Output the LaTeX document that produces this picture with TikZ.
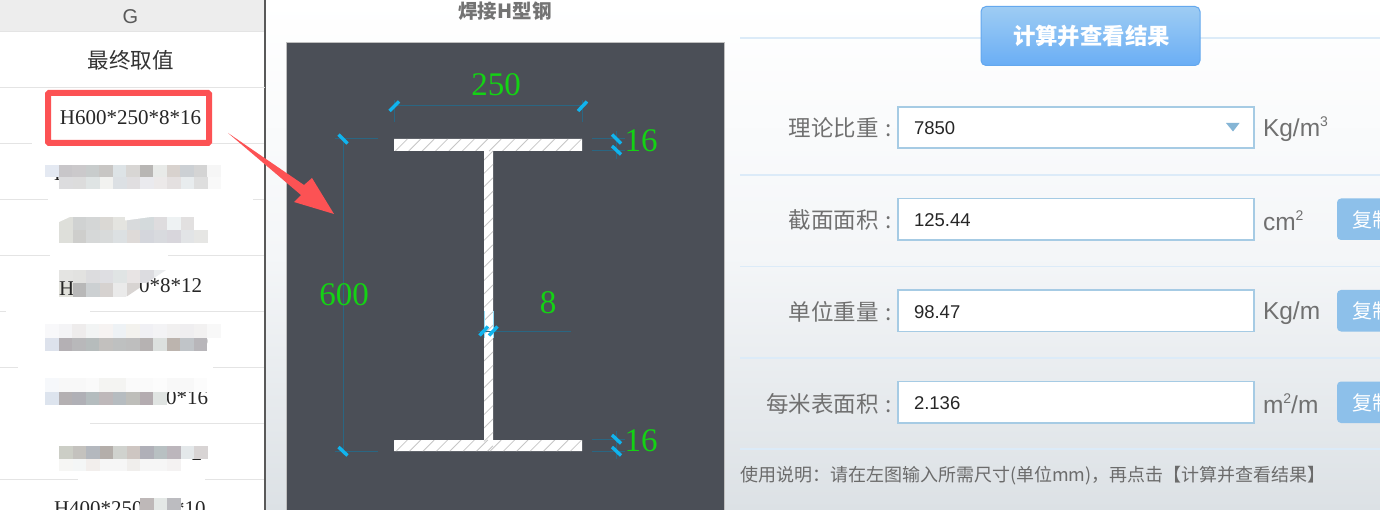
\documentclass[tikz,border=0pt]{standalone}
\usepackage{fontspec}
\setmainfont{Liberation Sans}
\newfontfamily\cjk{Noto Sans CJK SC}
\newfontfamily\tablefont{Liberation Serif}
\definecolor{gridc}{HTML}{E4E4E4}
\definecolor{panel}{HTML}{4B4F57}
\definecolor{dimc}{HTML}{2A6682}
\definecolor{tickc}{HTML}{10B4EE}
\definecolor{greenc}{HTML}{14D214}
\definecolor{redc}{HTML}{FC5254}
\definecolor{sep}{HTML}{DCEBF8}
\definecolor{inputb}{HTML}{A6CBE4}
\definecolor{labelc}{HTML}{707070}
\definecolor{copyc}{HTML}{8DC0EA}
\definecolor{hatchc}{HTML}{C6C6C6}
\tikzset{
  px/.style={inner sep=0pt,outer sep=0pt},
  cell/.style={px,font=\fontsize{21}{21}\selectfont\tablefont,text=black!85},
  dimline/.style={draw=dimc,line width=1pt},
  ticks/.style={draw=tickc,line width=3.4pt},
  dimtext/.style={px,font=\fontsize{33}{33}\selectfont\tablefont,text=greenc},
  gridline/.style={draw=gridc,line width=1pt},
  sepline/.style={draw=sep,line width=1.5pt},
  inputbox/.style={px,draw=inputb,line width=1.5pt,fill=white,anchor=north west},
  label/.style={px,anchor=east,font=\fontsize{22.5}{23}\selectfont\cjk,text=labelc},
  unit/.style={px,anchor=west,font=\fontsize{24.5}{25}\selectfont,text=labelc},
  value/.style={px,anchor=west,font=\fontsize{18.5}{19}\selectfont,text=black!85},
  copybtn/.style={px,fill=copyc,rounded corners=4pt,anchor=north west},
  copytext/.style={px,anchor=west,font=\fontsize{20}{20}\selectfont\cjk,text=white},
}
\newcommand{\mosaic}[4]{%
  \foreach \v [count=\i from 0] in {#4} {
    \definecolor{mc}{HTML}{\v}
    \fill[mc] ({#1+13.5*\i},#2) rectangle ++(13.6,#3);
  }}
\begin{document}
\begin{tikzpicture}[x=1pt,y=-1pt]
\useasboundingbox (0,0) rectangle (1380,510);
\clip (0,0) rectangle (1380,510);
% right background
\shade[top color=white,bottom color={rgb,255:red,220;green,225;blue,229},middle color={rgb,255:red,244;green,246;blue,248}] (265,0) rectangle (1380,510);
% left table
\fill[white] (0,0) rectangle (265,510);
\fill[black!7] (0,0) rectangle (265,31.5);
\draw[gridline] (0,31.5) -- (265,31.5);
\draw[draw=black!65,line width=2pt] (265,0) -- (265,510);
\node[px,font=\fontsize{20}{20}\selectfont,text=black!65] (colG) at (130.5,17) {G};
\foreach \y/\a/\b in {87.5/0/265,143.5/0/32,143.5/212/264,199.5/0/48,199.5/253/264,255.5/0/50,255.5/168/264,311.5/0/6,311.5/90/264,367.5/0/18,367.5/213/264,423.5/90/264,479.5/0/78,479.5/205/264}
  \draw[gridline] (\a,\y) -- (\b,\y);
\node[px,font=\fontsize{21.5}{22}\selectfont\cjk,text=black!80] (head) at (130.5,60.5) {最终取值};
\node[cell] (selected) at (130.5,118) {H600*250*8*16};
\draw[draw=redc,line width=6pt,rounded corners=1pt] (48,93) rectangle (209,143);
% partly hidden cells
\node[cell,anchor=west] (c2) at (54,174) {H};
\node[cell,anchor=east] (c4) at (202,286) {0*8*12};
\node[cell,anchor=east] (c5) at (208,342) {0};
\node[cell,anchor=east] (c6) at (208,398) {10*16};
\node[cell,anchor=west] (c6h) at (54,398) {H};
\node[cell,anchor=east] (c7) at (202,454) {2};
\node[cell,anchor=west] (c8) at (54,509) {H400*250*10*10};
% mosaics
\mosaic{45}{165}{12}{E4E9F2,C8C6C9,CBC9CB,C8CCCC,C8C6C4,DDE3E6,D8D6D4,B8B6B4,E8EAE8,D8D2CE,CCD0D4,D4D4D4,F6F6F6}
\mosaic{59}{177}{12}{DCDCDE,DCDCDC,DFE4E4,F2F2F0,DCE0E4,E0DEE0,EAEAEE,ECE9E9,E4E0E0,E8ECEE,DEDEDE,F9F9F9}
\mosaic{59}{217}{13}{DEDFDA,D0D2D2,D4D6D6,DAD8D4,E4E4E0,D8DADC,D4DADC,DEDCDE,EEF2F3,E2E0E0}
\mosaic{59}{230}{13}{DEDFDA,CECECC,D6D8D8,D8DADA,DCE0E2,DEDAD8,D4D6DC,D8DADE,D8D6DC,E2E4E6,E6E6E4}
\fill[white] (59,216) -- (72,216) -- (59,222) -- cycle;
\fill[white] (125,216) -- (158,216) -- (125,220.5) -- cycle;
\begin{scope}
\clip (59,270) -- (166,270) -- (126,297) -- (59,297) -- cycle;
\mosaic{59}{270}{13.5}{E4E4E2,E2E2E0,DCDCDE,DEDEE2,E0E4E4,E8E4E4,DCDCE0,EAECEE}
\mosaic{59}{283.5}{13.5}{E2E2DC,B8B8B8,CCD0D2,D6D2D0,EAEAEA,D8D4D2}
\end{scope}
\begin{scope}
\clip (59,281) rectangle (72,297);
\node[cell,anchor=west] (c4h) at (59,289) {H};
\end{scope}
\mosaic{45}{324}{13.5}{F8F8FA,F4F4F6,EEECEC,F2F4F4,F6F3F2,EEF2F5,F3F2EE,F0F0F4,F3F3F5,F1F0F0,EFEEF0,F2F1F1,F8F8F8}
\mosaic{45}{337.5}{13.5}{DDE2EC,B4B0B4,B8B8BA,B6BCBC,C2C0BE,BEC0C0,BEBEBE,B6B2B2,DCE0DE,BCB4AE,C0C4C8,B8B6BA}
\mosaic{45}{378}{13.5}{F6F8FB,F8F8F8,F8F8F8,FAFAFA,F4F4F2,F4F4F2,FAFAFA,FAFAFA,FCFCFC,F8F8F8,F8F8F8,FCFCFC}
\mosaic{45}{391.5}{13.5}{DDE4EE,B4B0B2,B0B0B6,B4BCBE,BEB8BA,B6BCC0,BEBEBA,B4ACB0,E0E4E2}
\mosaic{59}{446}{12.5}{CCCEC6,C4C2BE,B4B8BE,B4AEAA,D0D2CE,CEC6C2,B0B0B8,B8C0C2,BCB6BC,E4E8EA,D8D4D4}
\mosaic{59}{458.5}{12.5}{F6F6F4,F4F6F6,F2EEEC,F6F6F6,F6F6F6,F0EEEC,F6F6F6,F6F6F6,F4F2F2}
\mosaic{140}{498}{12.5}{BEB8B8,E4E8E6,BCBCC0}
% title
\node[px,font=\fontsize{19.5}{20}\selectfont\cjk\bfseries,text=black!55] (title) at (505,11) {焊接H型钢};
% drawing panel
\fill[panel] (286.5,42) rectangle (724,510);
\draw[draw=black!25,line width=0.7pt] (286.5,510) -- (286.5,42) -- (724,42) -- (724,510);
% section
\path[fill=white] (394,139) -- (582,139) -- (582,151) -- (493,151) -- (493,440) -- (582,440) -- (582,451) -- (394,451) -- (394,440) -- (484,440) -- (484,151) -- (394,151) -- cycle;
\begin{scope}
\clip (394,139) -- (582,139) -- (582,151) -- (493,151) -- (493,440) -- (582,440) -- (582,451) -- (394,451) -- (394,440) -- (484,440) -- (484,151) -- (394,151) -- cycle;
\foreach \k in {0,...,50}
  \draw[draw=hatchc,line width=0.8pt] ({394+13.4*\k},139) -- ++(-12.2,12.2);
\foreach \k in {0,...,50}
  \draw[draw=hatchc,line width=0.8pt] ({394+13.4*\k},440) -- ++(-12.2,12.2);
\foreach \k in {0,...,22}
  \draw[draw=hatchc,line width=0.8pt] (493,{151+13.4*\k}) -- ++(-9,9);
\end{scope}
% named dimension points
\coordinate (t1) at (394,106); \coordinate (t2) at (582,106);
\coordinate (l1) at (343,139); \coordinate (l2) at (343,451);
% dimension lines
\draw[dimline] (t1) -- (t2);
\draw[dimline] (394,100) -- (394,122);
\draw[dimline] (582,100) -- (582,122);
\draw[dimline] (l1) -- (l2);
\draw[dimline] (335,139) -- (378,139);
\draw[dimline] (335,451) -- (378,451);
\draw[dimline] (592,139) -- (625,139);
\draw[dimline] (592,151) -- (625,151);
\draw[dimline] (616,131) -- (616,159);
\draw[dimline] (592,439) -- (625,439);
\draw[dimline] (592,451) -- (625,451);
\draw[dimline] (616,431) -- (616,459);
\draw[dimline] (478,331) -- (571,331);
\draw[draw=tickc!45!white,line width=0.8pt] (484,311) -- (484,338);
\draw[draw=tickc!45!white,line width=0.8pt] (493,311) -- (493,338);
% ticks
\draw[ticks] (389.5,111) -- (399,101.5);
\draw[ticks] (578,111) -- (587,101.5);
\draw[ticks] (338.5,134.5) -- (347.5,143.5);
\draw[ticks] (338.5,447) -- (347.5,455.5);
\draw[ticks] (612,134.5) -- (621,143.5);
\draw[ticks] (612,146) -- (621,154.5);
\draw[ticks] (612,435) -- (621,443.5);
\draw[ticks] (612,447) -- (621,455.5);
\draw[ticks] (479.5,335.5) -- (488,326.5);
\draw[ticks] (489,335.5) -- (497.5,326.5);
% dimension texts
\node[dimtext] (d250) at (496,85) {250};
\node[dimtext] (d600) at (344,295) {600};
\node[dimtext] (d8) at (548,303) {8};
\node[dimtext] (d16a) at (641,141) {16};
\node[dimtext] (d16b) at (641,441) {16};
% separators
\foreach \y in {38,175,266.5,358,449}
  \draw[sepline] (740,\y) -- (1380,\y);
% button
\node[px,minimum width=219pt,minimum height=59pt,rounded corners=5pt,top color={rgb,255:red,158;green,204;blue,243},bottom color={rgb,255:red,106;green,174;blue,245},draw={rgb,255:red,100;green,168;blue,238},line width=1pt,anchor=north west] (btn) at (981,6.5) {};
\node[px,font=\fontsize{22.4}{23}\selectfont\cjk\bfseries,text=white] (btntext) at (1091.5,36) {计算并查看结果};
% rows
\node[inputbox,minimum width=356pt,minimum height=41pt] (in1) at (898,107) {};
\node[inputbox,minimum width=356pt,minimum height=41.5pt] (in2) at (898,198.5) {};
\node[inputbox,minimum width=356pt,minimum height=41.5pt] (in3) at (898,290) {};
\node[inputbox,minimum width=356pt,minimum height=41.5pt] (in4) at (898,381.5) {};
\fill[fill={rgb,255:red,133;green,181;blue,213}] (1226,123) -- (1239.5,123) -- (1233,131.5) -- cycle;
\node[label] (l1t) at (892,128) {理论比重\hspace{2pt} :};
\node[label] (l2t) at (892,220) {截面面积\hspace{2pt} :};
\node[label] (l3t) at (892,312) {单位重量\hspace{2pt} :};
\node[label] (l4t) at (892,403.5) {每米表面积\hspace{2pt} :};
\node[value] (v1) at (914,128.5) {7850};
\node[value] (v2) at (914,220) {125.44};
\node[value] (v3) at (914,312) {98.47};
\node[value] (v4) at (914,403.5) {2.136};
\node[unit] (u1) at (1263,129) {Kg/m\raisebox{0.42em}{\fontsize{14}{14}\selectfont 3}};
\node[unit] (u2) at (1263,220.5) {cm\raisebox{0.42em}{\fontsize{14}{14}\selectfont 2}};
\node[unit] (u3) at (1263,313) {Kg/m};
\node[unit] (u4) at (1263,404) {m\raisebox{0.42em}{\fontsize{14}{14}\selectfont 2}/m};
\foreach \n/\y in {a/198.5,b/290,c/381.5} {
  \node[copybtn,minimum width=60pt,minimum height=41.5pt] (copy\n) at (1337,\y) {};
  \node[copytext] (copyt\n) at (1352,\y+21) {复制};
}
\node[px,anchor=west,font=\fontsize{18}{19}\selectfont\cjk,text=black!58] (note) at (740,475.5) {使用说明：请在左图输入所需尺寸(单位mm)，再点击【计算并查看结果】};
% arrow
\fill[redc] (228,133) -- (304,185) -- (312,178) -- (334,214) -- (294,202) -- (301,195) -- cycle;
\end{tikzpicture}
\end{document}
